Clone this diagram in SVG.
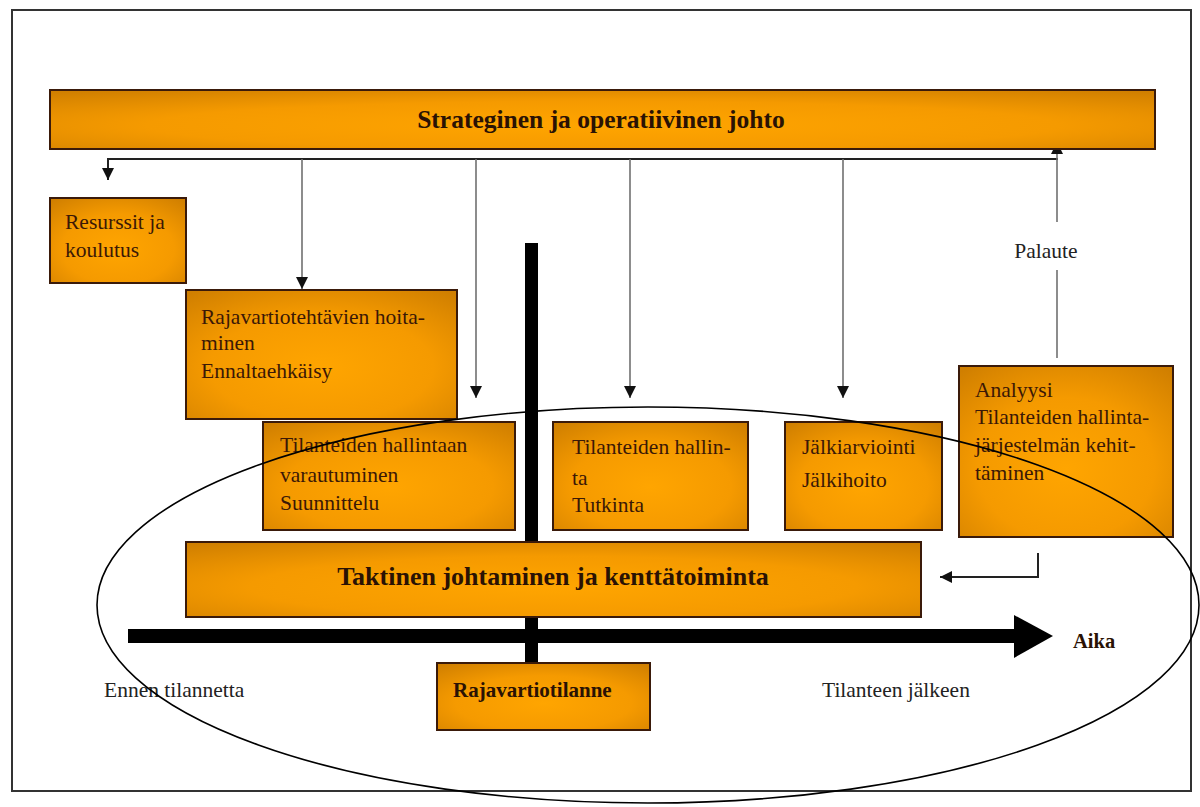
<svg xmlns="http://www.w3.org/2000/svg" width="1200" height="807" viewBox="0 0 1200 807">
<style>
.box{fill:url(#og);stroke:#3a1a0a;stroke-width:2}
.t{font-family:"Liberation Serif","Times New Roman",serif;font-size:21.5px;fill:#3b1806}
.tb{font-family:"Liberation Serif","Times New Roman",serif;font-weight:bold;fill:#2a1204}
.o{font-family:"Liberation Serif","Times New Roman",serif;font-size:21.5px;fill:#222}
.ln{stroke:#707070;stroke-width:1.6;fill:none}
.dk{stroke:#222;stroke-width:2;fill:none}
</style>
<defs>
<radialGradient id="og" cx="0.5" cy="0.6" r="0.75">
<stop offset="0" stop-color="#FFA500"/>
<stop offset="0.55" stop-color="#F59A00"/>
<stop offset="1" stop-color="#D07F00"/>
</radialGradient>
<marker id="ah2" viewBox="0 0 10 10" refX="10" refY="5" markerWidth="12" markerHeight="12" markerUnits="userSpaceOnUse" orient="auto">
<path d="M0,0 L10,5 L0,10 z" fill="#111"/>
</marker>
</defs>
<rect x="0" y="0" width="1200" height="807" fill="#fff"/>
<rect x="12" y="10" width="1179" height="781" fill="none" stroke="#333" stroke-width="2"/>

<g id="connectors">
<path class="dk" d="M1058,159 L108,159 L108,180" marker-end="url(#ah2)"/>
<path class="ln" d="M302,159 L302,289" marker-end="url(#ah2)"/>
<path class="ln" d="M476,159 L476,398" marker-end="url(#ah2)"/>
<path class="ln" d="M630,159 L630,398" marker-end="url(#ah2)"/>
<path class="ln" d="M843,159 L843,398" marker-end="url(#ah2)"/>
<path class="ln" d="M1057,358 L1057,270"/>
<path class="ln" d="M1057,222 L1057,142" marker-end="url(#ah2)"/>
<path class="dk" d="M1038,553 L1038,577 L940,577" marker-end="url(#ah2)"/>
</g>

<g id="top">
<rect class="box" x="50" y="90" width="1105" height="59"/>
<text class="tb" x="601" y="128" font-size="25.5" text-anchor="middle">Strateginen ja operatiivinen johto</text>
</g>

<g id="resurssit">
<rect class="box" x="50" y="198" width="136" height="85"/>
<text class="t" x="65" y="229">Resurssit ja</text>
<text class="t" x="65" y="257">koulutus</text>
</g>

<g id="palaute">
<text class="o" x="1046" y="258" text-anchor="middle">Palaute</text>
</g>

<g id="timebar">
<rect x="525" y="243" width="13" height="422" fill="#000"/>
</g>

<g id="rajavartiotehtavien">
<rect class="box" x="186" y="290" width="271" height="129"/>
<text class="t" x="201" y="324">Rajavartiotehtävien hoita-</text>
<text class="t" x="201" y="350">minen</text>
<text class="t" x="201" y="378">Ennaltaehkäisy</text>
</g>

<g id="varautuminen">
<rect class="box" x="263" y="422" width="252" height="108"/>
<text class="t" x="280" y="452">Tilanteiden hallintaan</text>
<text class="t" x="280" y="482">varautuminen</text>
<text class="t" x="280" y="510">Suunnittelu</text>
</g>

<g id="hallinta">
<rect class="box" x="553" y="422" width="195" height="108"/>
<text class="t" x="572" y="454">Tilanteiden hallin-</text>
<text class="t" x="572" y="485">ta</text>
<text class="t" x="572" y="512">Tutkinta</text>
</g>

<g id="jalkiarviointi">
<rect class="box" x="785" y="422" width="157" height="108"/>
<text class="t" x="802" y="454">Jälkiarviointi</text>
<text class="t" x="802" y="487">Jälkihoito</text>
</g>

<g id="analyysi">
<rect class="box" x="959" y="366" width="214" height="171"/>
<text class="t" x="975" y="397">Analyysi</text>
<text class="t" x="975" y="424">Tilanteiden hallinta-</text>
<text class="t" x="975" y="452">järjestelmän kehit-</text>
<text class="t" x="975" y="480">täminen</text>
</g>

<g id="taktinen">
<rect class="box" x="186" y="542" width="735" height="75"/>
<text class="tb" x="553" y="585" font-size="26" text-anchor="middle">Taktinen johtaminen ja kenttätoiminta</text>
</g>

<g id="aika">
<rect x="128" y="629" width="890" height="14" fill="#000"/>
<path d="M1014,615 L1053,636 L1014,658 z" fill="#000"/>
<text class="tb" x="1073" y="648" font-size="20.5" fill="#222">Aika</text>
</g>

<g id="rajavartiotilanne">
<rect class="box" x="437" y="663" width="213" height="67"/>
<text class="tb" x="453" y="697" font-size="21">Rajavartiotilanne</text>
</g>

<g id="labels">
<text class="o" x="104" y="697">Ennen tilannetta</text>
<text class="o" x="822" y="697">Tilanteen jälkeen</text>
</g>

<ellipse cx="648" cy="605" rx="551" ry="198" fill="none" stroke="#000" stroke-width="1.6"/>
</svg>
